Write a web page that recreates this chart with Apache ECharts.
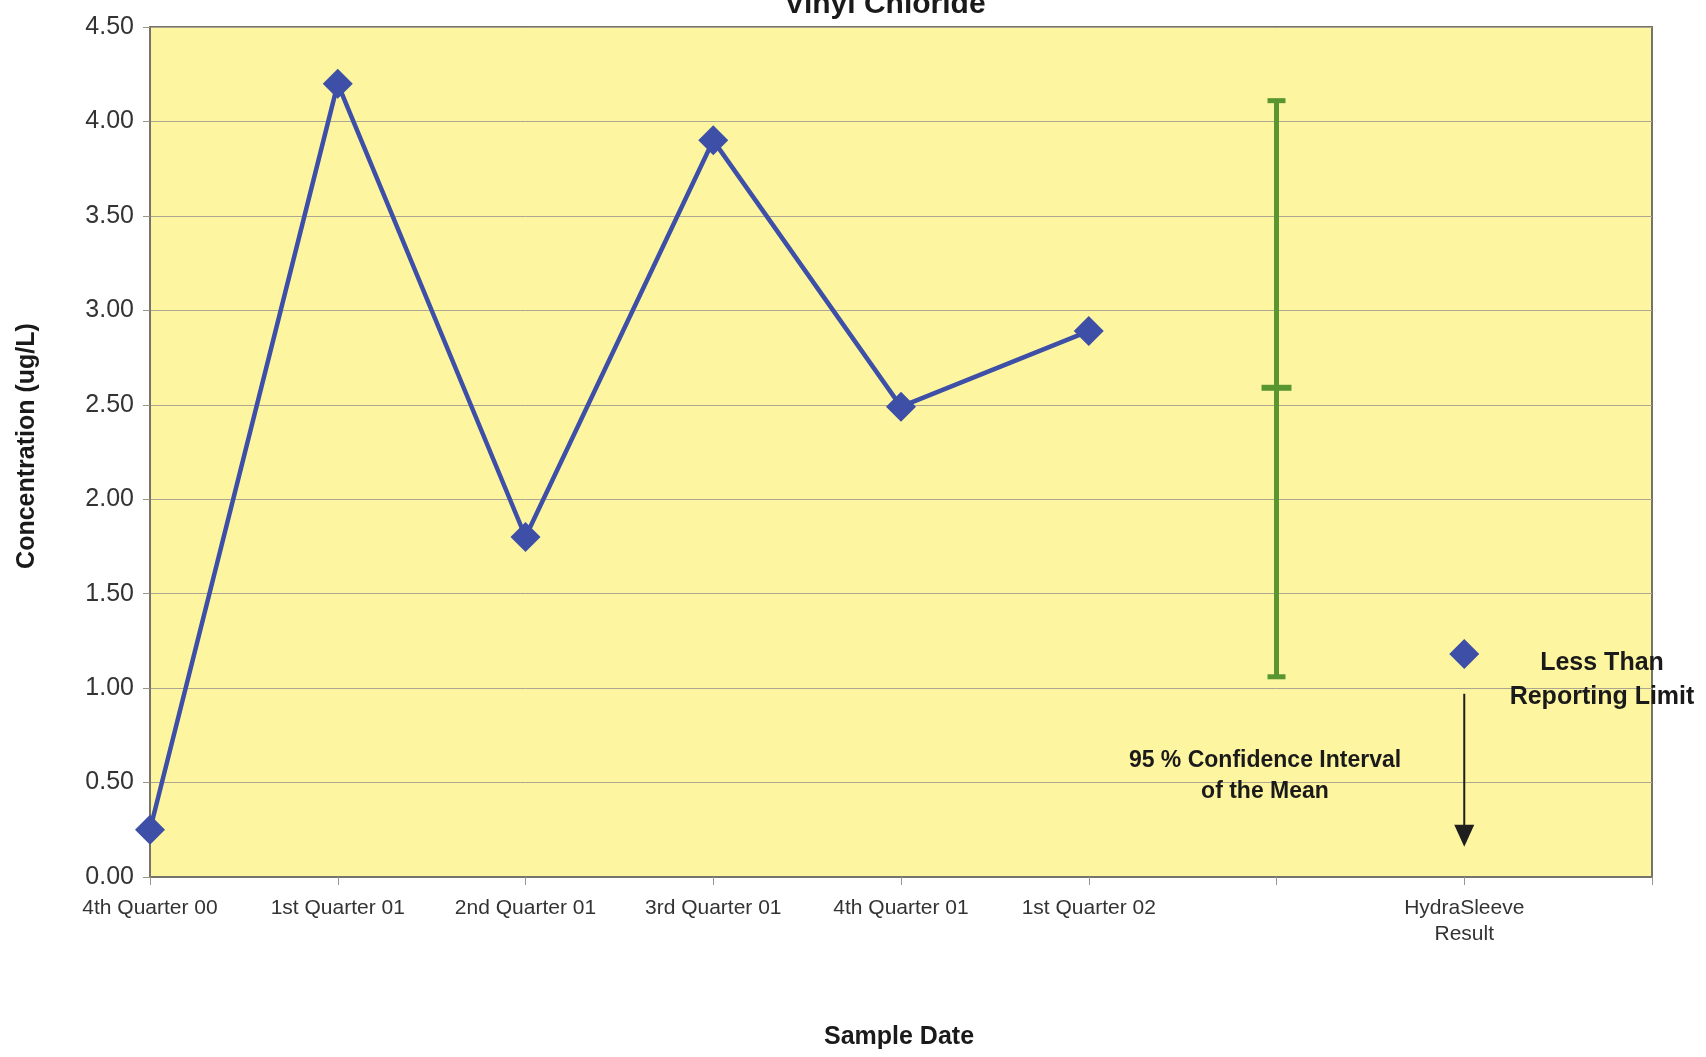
<!DOCTYPE html>
<html>
<head>
<meta charset="utf-8">
<script src="https://cdn.jsdelivr.net/npm/echarts@6/dist/echarts.min.js"></script>
<style>
html,body{margin:0;padding:0;background:#ffffff;}
#chart{width:1706px;height:1057px;}
</style>
</head>
<body>
<div id="chart"></div>
<script>
// ---- data ----
const categories = ['4th Quarter 00','1st Quarter 01','2nd Quarter 01','3rd Quarter 01','4th Quarter 01','1st Quarter 02',' ','HydraSleeve\nResult','  '];
const quarterlyValues = [0.25, 4.20, 1.80, 3.90, 2.49, 2.89];
const ciIndex = [6];
const ciLow = [1.06];
const ciMean = [2.59];
const ciHigh = [4.11];
const hydraIndex = [7];
const hydraValue = [1.18];
const arrowFrom = [0.97];
const arrowTo = [0.16];
const yTicks = [0, 0.5, 1, 1.5, 2, 2.5, 3, 3.5, 4, 4.5];

const FONT = "'Liberation Sans', Arial, Helvetica, sans-serif";
const chart = echarts.init(document.getElementById('chart'), null, {renderer: 'canvas'});

const ciData = ciIndex.map((x, i) => [x, ciLow[i], ciMean[i], ciHigh[i]]);
const hydraData = hydraIndex.map((x, i) => [x, hydraValue[i]]);
const arrowData = hydraIndex.map((x, i) => [x, arrowFrom[i], arrowTo[i]]);

const option = {
  backgroundColor: '#ffffff',
  animation: false,
  grid: {
    left: 150, right: 54, top: 27, bottom: 180,
    show: true, backgroundColor: '#fdf5a0',
    borderColor: '#76736a', borderWidth: 2
  },
  xAxis: {
    type: 'category',
    data: categories,
    boundaryGap: false,
    axisLine: {show: true, lineStyle: {color: '#76736a', width: 2}},
    axisTick: {show: true, interval: 0, length: 8, lineStyle: {color: '#9a978a', width: 1}},
    axisLabel: {interval: 0, fontSize: 21, fontFamily: FONT, color: '#333', margin: 18, lineHeight: 26},
    splitLine: {show: false}
  },
  yAxis: {
    type: 'value',
    min: yTicks[0], max: yTicks[yTicks.length - 1], interval: 0.5,
    axisLine: {show: true, lineStyle: {color: '#76736a', width: 2}},
    axisTick: {show: true, length: 7, lineStyle: {color: '#9a978a', width: 1}},
    axisLabel: {formatter: v => v.toFixed(2), fontSize: 25, fontFamily: FONT, color: '#333', margin: 16},
    splitLine: {show: true, lineStyle: {color: '#aaa68f', width: 1}}
  },
  series: [
    {
      type: 'line',
      data: quarterlyValues,
      symbol: 'diamond', symbolSize: 30,
      lineStyle: {color: '#3d4fa6', width: 4.5},
      itemStyle: {color: '#3d4fa6', opacity: 1},
      z: 5
    },
    {
      type: 'scatter',
      data: hydraData,
      symbol: 'diamond', symbolSize: 30,
      itemStyle: {color: '#3d4fa6', opacity: 1},
      z: 5
    },
    {
      type: 'custom',
      data: ciData,
      encode: {x: 0, y: [1, 2, 3]},
      z: 4,
      renderItem: function (params, api) {
        const x = api.value(0);
        const pLow = api.coord([x, api.value(1)]);
        const pMean = api.coord([x, api.value(2)]);
        const pHigh = api.coord([x, api.value(3)]);
        const col = '#5a9630';
        return {
          type: 'group',
          children: [
            {type: 'line', shape: {x1: pLow[0], y1: pLow[1], x2: pHigh[0], y2: pHigh[1]}, style: {stroke: col, lineWidth: 5}},
            {type: 'line', shape: {x1: pHigh[0] - 9, y1: pHigh[1], x2: pHigh[0] + 9, y2: pHigh[1]}, style: {stroke: col, lineWidth: 5}},
            {type: 'line', shape: {x1: pLow[0] - 9, y1: pLow[1], x2: pLow[0] + 9, y2: pLow[1]}, style: {stroke: col, lineWidth: 5}},
            {type: 'line', shape: {x1: pMean[0] - 15, y1: pMean[1], x2: pMean[0] + 15, y2: pMean[1]}, style: {stroke: col, lineWidth: 6}}
          ]
        };
      }
    },
    {
      type: 'custom',
      data: arrowData,
      encode: {x: 0, y: [1, 2]},
      z: 4,
      renderItem: function (params, api) {
        const x = api.value(0);
        const p1 = api.coord([x, api.value(1)]);
        const p2 = api.coord([x, api.value(2)]);
        const headH = 22, headW = 20;
        return {
          type: 'group',
          children: [
            {type: 'line', shape: {x1: p1[0], y1: p1[1], x2: p2[0], y2: p2[1] - headH + 2}, style: {stroke: '#1e1e1e', lineWidth: 2}},
            {type: 'polygon', shape: {points: [[p2[0] - headW / 2, p2[1] - headH], [p2[0] + headW / 2, p2[1] - headH], [p2[0], p2[1]]]}, style: {fill: '#1e1e1e'}}
          ]
        };
      }
    }
  ],
  graphic: [
    {type: 'text', x: 885, y: 5, z: 10, style: {text: 'Vinyl Chloride', font: 'bold 30px ' + FONT, fill: '#1a1a1a', align: 'center', verticalAlign: 'middle'}},
    {type: 'text', x: 899, y: 1037, z: 10, style: {text: 'Sample Date', font: 'bold 25px ' + FONT, fill: '#1a1a1a', align: 'center', verticalAlign: 'middle'}},
    {type: 'text', x: 27, y: 446, rotation: Math.PI / 2, z: 10, style: {text: 'Concentration (ug/L)', font: 'bold 25px ' + FONT, fill: '#1a1a1a', align: 'center', verticalAlign: 'middle'}},
    {type: 'text', x: 1602, y: 680, z: 10, style: {text: 'Less Than\nReporting Limit', font: 'bold 25px ' + FONT, lineHeight: 34, fill: '#1a1a1a', align: 'center', verticalAlign: 'middle'}},
    {type: 'text', x: 1265, y: 776, z: 10, style: {text: '95 % Confidence Interval\nof the Mean', font: 'bold 23px ' + FONT, lineHeight: 31, fill: '#1a1a1a', align: 'center', verticalAlign: 'middle'}}
  ]
};
chart.setOption(option);
</script>
</body>
</html>
